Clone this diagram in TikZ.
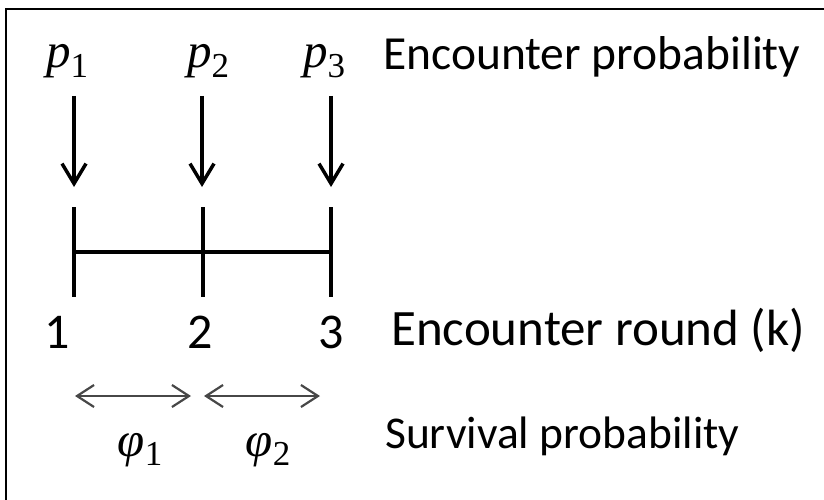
\documentclass[tikz,border=0pt]{standalone}
\usepackage[no-math]{fontspec}
\setmainfont{Carlito}
\newfontfamily\serifit{Liberation Serif}
\usetikzlibrary{arrows.meta}
\newcommand{\symsub}[2]{{\serifit\itshape #1}\raisebox{-0.2em}{\serifit\fontsize{35}{35}\selectfont #2}}
\tikzset{
  lbl/.style={inner sep=0pt, anchor=base west, font=\fontsize{47.5}{50}\selectfont},
  rlbl/.style={inner sep=0pt, anchor=base west, font=\fontsize{51}{54}\selectfont},
  slbl/.style={inner sep=0pt, anchor=base west, font=\fontsize{45.5}{48}\selectfont},
  num/.style={inner sep=0pt, anchor=base, font=\fontsize{50}{52}\selectfont},
  mth/.style={inner sep=0pt, anchor=base, font=\fontsize{49}{52}\selectfont},
  downarrow/.style={line width=3.5pt, -{Straight Barb[length=20pt,width=24pt]}},
  tick/.style={line width=4.5pt},
  twoarrow/.style={draw=black!72, line width=2.2pt, {Straight Barb[length=17pt,width=22pt]}-{Straight Barb[length=17pt,width=22pt]}},
  frame/.style={line width=2pt}
}
\begin{document}
\begin{tikzpicture}[x=1pt,y=-1pt]
\useasboundingbox (0,0) rectangle (824,500);
% frame (only top and left sides visible)
\draw[frame] (6,500) -- (6,9) -- (824,9);
% encounter probabilities
\node[mth] (p1) at (67,68) {\symsub{p}{1}};
\node[mth] (p2) at (208,68) {\symsub{p}{2}};
\node[mth] (p3) at (324,68) {\symsub{p}{3}};
\node[lbl] (encp) at (383,70) {Encounter probability};
% arrow start/end coordinates
\coordinate (a1s) at (74,96);  \coordinate (a1e) at (74,187);
\coordinate (a2s) at (202,96); \coordinate (a2e) at (202,187);
\coordinate (a3s) at (331,96); \coordinate (a3e) at (331,187);
\draw[downarrow] (a1s) -- (a1e);
\draw[downarrow] (a2s) -- (a2e);
\draw[downarrow] (a3s) -- (a3e);
% timeline
\coordinate (t1) at (74,252);
\coordinate (t2) at (203,252);
\coordinate (t3) at (331,252);
\coordinate (t1t) at (74,207); \coordinate (t1b) at (74,297);
\coordinate (t2t) at (203,207); \coordinate (t2b) at (203,297);
\coordinate (t3t) at (331,207); \coordinate (t3b) at (331,297);
\draw[tick] (t1) -- (t3);
\draw[tick] (t1t) -- (t1b);
\draw[tick] (t2t) -- (t2b);
\draw[tick] (t3t) -- (t3b);
% round numbers
\node[num] (n1) at (57,348) {1};
\node[num] (n2) at (200,348) {2};
\node[num] (n3) at (331,348) {3};
\node[rlbl] (encr) at (391,345) {Encounter round (k)};
% survival arrows
\coordinate (s1a) at (75,396); \coordinate (s1b) at (191,396);
\coordinate (s2a) at (204,396); \coordinate (s2b) at (320,396);
\draw[twoarrow] (s1a) -- (s1b);
\draw[twoarrow] (s2a) -- (s2b);
\node[mth] (f1) at (140,456) {\symsub{φ}{1}};
\node[mth] (f2) at (268,456) {\symsub{φ}{2}};
\node[slbl] (surv) at (385,448) {Survival probability};
\end{tikzpicture}
\end{document}
